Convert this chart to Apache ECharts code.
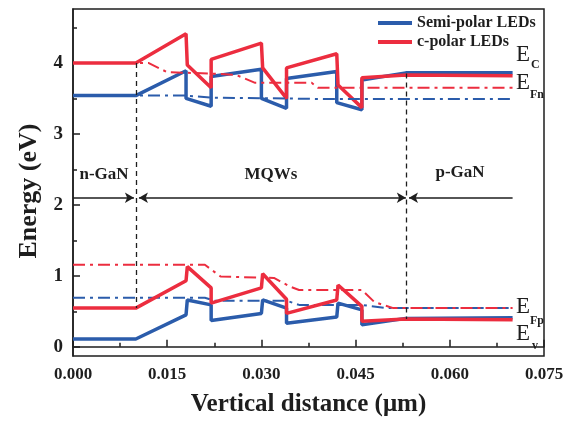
<!DOCTYPE html>
<html>
<head>
<meta charset="utf-8">
<script src="https://cdn.jsdelivr.net/npm/echarts@6/dist/echarts.min.js"></script>
<style>
  html, body { margin: 0; padding: 0; background: #fff; }
  #chart { width: 576px; height: 433px; }
</style>
</head>
<body>
<div id="chart"></div>
<script>
// Band-edge profiles, [position (um), energy (eV)]
const semiEc = [[0,3.54],[0.010,3.54],[0.018,3.89],[0.018,3.50],[0.022,3.39],[0.022,3.81],[0.030,3.91],[0.030,3.50],[0.034,3.36],[0.034,3.78],[0.042,3.88],[0.042,3.44],[0.046,3.34],[0.046,3.76],[0.053,3.86],[0.070,3.86]];
const cpolarEc = [[0,4.00],[0.010,4.00],[0.018,4.41],[0.0182,3.97],[0.022,3.65],[0.022,4.05],[0.030,4.28],[0.0302,3.93],[0.034,3.50],[0.034,3.93],[0.042,4.13],[0.0422,3.69],[0.046,3.37],[0.046,3.79],[0.053,3.83],[0.070,3.82]];
const semiEfn = [[0,3.54],[0.018,3.54],[0.022,3.51],[0.034,3.50],[0.040,3.49],[0.070,3.49]];
const cpolarEfn = [[0,4.00],[0.012,4.00],[0.015,3.87],[0.022,3.85],[0.026,3.83],[0.029,3.72],[0.038,3.72],[0.039,3.65],[0.070,3.65]];
const semiEfp = [[0,0.69],[0.021,0.69],[0.0225,0.65],[0.034,0.65],[0.036,0.59],[0.046,0.59],[0.050,0.545],[0.070,0.545]];
const cpolarEfp = [[0,1.155],[0.021,1.155],[0.0235,0.99],[0.032,0.97],[0.0345,0.85],[0.036,0.80],[0.046,0.80],[0.048,0.63],[0.051,0.545],[0.070,0.545]];
const semiEv = [[0,0.11],[0.010,0.11],[0.018,0.45],[0.0182,0.66],[0.022,0.59],[0.022,0.37],[0.030,0.47],[0.0302,0.66],[0.034,0.545],[0.034,0.33],[0.042,0.42],[0.0422,0.615],[0.046,0.52],[0.046,0.31],[0.053,0.40],[0.070,0.41]];
const cpolarEv = [[0,0.545],[0.010,0.545],[0.018,0.93],[0.0182,1.13],[0.022,0.83],[0.022,0.615],[0.030,0.83],[0.0302,1.03],[0.034,0.67],[0.034,0.47],[0.042,0.66],[0.0422,0.87],[0.046,0.57],[0.046,0.36],[0.053,0.39],[0.070,0.38]];

// Region boundaries and the arrow row marking n-GaN / MQWs / p-GaN
const boundaryN = [[0.010, 4.00], [0.010, 0.545]];
const boundaryP = [[0.053, 3.85], [0.053, 0.39]];
const arrowLevel = 2.10;
const arrowSpans = [[0, 0.0097], [0.0105, 0.0530], [0.0535, 0.070]];

const seriesNames = ['Semi-polar LEDs', 'c-polar LEDs'];
const yLabels = [0, 1, 2, 3, 4];
const yMinorTicks = [0.5, 1.5, 2.5, 3.5, 4.5];

const BLUE = '#2b5cab';
const RED = '#ec2d3f';
const INK = '#1e1e1e';
const SERIF = '"Liberation Serif", "Times New Roman", serif';
const DASHDOT = [12, 5, 3, 5];

function solid(name, data, color) {
  return { name, type: 'line', data, symbol: 'none', showSymbol: false,
    lineStyle: { color, width: 3.5 }, itemStyle: { color }, silent: true };
}
function dashDot(name, data, color) {
  return { name, type: 'line', data, symbol: 'none', showSymbol: false,
    lineStyle: { color, width: 2, type: DASHDOT }, itemStyle: { color }, silent: true };
}

const chart = echarts.init(document.getElementById('chart'), null, { renderer: 'canvas' });

const option = {
  animation: false,
  backgroundColor: '#fff',
  grid: { left: 73, right: 32, top: 9, bottom: 77, show: true, borderColor: INK, borderWidth: 1.5 },
  legend: {
    data: seriesNames,
    orient: 'vertical', left: 373, top: 10, itemGap: 3,
    icon: 'rect', itemWidth: 34, itemHeight: 4,
    textStyle: { fontFamily: SERIF, fontWeight: 'bold', fontSize: 16, color: INK }
  },
  xAxis: {
    type: 'value', min: 0, max: 0.075, interval: 0.015,
    name: 'Vertical distance (\u03bcm)', nameLocation: 'middle', nameGap: 36,
    nameTextStyle: { fontFamily: SERIF, fontWeight: 'bold', fontSize: 25, color: INK },
    axisLine: { show: true, lineStyle: { color: INK, width: 1.5 } },
    axisTick: { inside: true, length: 7, lineStyle: { color: INK, width: 1.5 } },
    minorTick: { show: true, splitNumber: 2, length: 4, lineStyle: { color: INK, width: 1.5 } },
    axisLabel: { fontFamily: SERIF, fontWeight: 'bold', fontSize: 17, color: INK, margin: 10,
      formatter: v => v.toFixed(3) },
    splitLine: { show: false }
  },
  yAxis: [
    {
      type: 'value', min: -0.13, max: 4.76,
      axisLine: { show: true, lineStyle: { color: INK, width: 1.5 } },
      axisTick: { inside: true, length: 7, customValues: yLabels, lineStyle: { color: INK, width: 1.5 } },
      axisLabel: { customValues: yLabels, fontFamily: SERIF, fontWeight: 'bold', fontSize: 19, color: INK, margin: 10 },
      splitLine: { show: false }
    },
    {
      type: 'value', min: -0.13, max: 4.76, position: 'left',
      axisLine: { show: false },
      axisTick: { show: true, inside: true, length: 4, customValues: yMinorTicks, lineStyle: { color: INK, width: 1.5 } },
      axisLabel: { show: false },
      splitLine: { show: false }
    }
  ],
  series: [
    solid(seriesNames[0], semiEc, BLUE),
    solid(seriesNames[1], cpolarEc, RED),
    dashDot('Semi-polar EFn', semiEfn, BLUE),
    dashDot('c-polar EFn', cpolarEfn, RED),
    dashDot('Semi-polar EFp', semiEfp, BLUE),
    dashDot('c-polar EFp', cpolarEfp, RED),
    solid('Semi-polar Ev', semiEv, BLUE),
    solid('c-polar Ev', cpolarEv, RED),
    {
      name: 'regions', type: 'line', data: [], silent: true,
      markLine: {
        silent: true, animation: false,
        label: { show: false },
        data: [
          [{ coord: boundaryN[0], symbol: 'none' }, { coord: boundaryN[1], symbol: 'none',
            lineStyle: { type: [5, 4], width: 1.3, color: INK } }],
          [{ coord: boundaryP[0], symbol: 'none' }, { coord: boundaryP[1], symbol: 'none',
            lineStyle: { type: [5, 4], width: 1.3, color: INK } }],
          [{ coord: [arrowSpans[0][0], arrowLevel], symbol: 'none' },
           { coord: [arrowSpans[0][1], arrowLevel], symbol: 'arrow' }],
          [{ coord: [arrowSpans[1][0], arrowLevel], symbol: 'arrow' },
           { coord: [arrowSpans[1][1], arrowLevel], symbol: 'arrow' }],
          [{ coord: [arrowSpans[2][0], arrowLevel], symbol: 'arrow' },
           { coord: [arrowSpans[2][1], arrowLevel], symbol: 'none' }]
        ],
        symbolSize: [8, 9],
        lineStyle: { color: INK, width: 1.5, type: 'solid' }
      }
    }
  ],
  graphic: [
    // axis title on the left
    { type: 'text', x: 29, y: 191, rotation: Math.PI / 2,
      style: { text: 'Energy (eV)', fontFamily: SERIF, fontWeight: 'bold', fontSize: 26, fill: INK,
        align: 'center', verticalAlign: 'middle' } },
    // region names
    { type: 'text', x: 104, y: 175, style: { text: 'n-GaN', fontFamily: SERIF, fontWeight: 'bold', fontSize: 17, fill: INK, align: 'center', verticalAlign: 'middle' } },
    { type: 'text', x: 271, y: 175, style: { text: 'MQWs', fontFamily: SERIF, fontWeight: 'bold', fontSize: 17, fill: INK, align: 'center', verticalAlign: 'middle' } },
    { type: 'text', x: 460, y: 173, style: { text: 'p-GaN', fontFamily: SERIF, fontWeight: 'bold', fontSize: 17, fill: INK, align: 'center', verticalAlign: 'middle' } },
    // band labels
    { type: 'text', x: 516, y: 55, style: { text: 'E', fontFamily: SERIF, fontSize: 23, fill: INK, verticalAlign: 'middle' } },
    { type: 'text', x: 531, y: 65, style: { text: 'C', fontFamily: SERIF, fontWeight: 'bold', fontSize: 12, fill: INK, verticalAlign: 'middle' } },
    { type: 'text', x: 516, y: 83, style: { text: 'E', fontFamily: SERIF, fontSize: 23, fill: INK, verticalAlign: 'middle' } },
    { type: 'text', x: 530, y: 95, style: { text: 'Fn', fontFamily: SERIF, fontWeight: 'bold', fontSize: 12, fill: INK, verticalAlign: 'middle' } },
    { type: 'text', x: 516, y: 307, style: { text: 'E', fontFamily: SERIF, fontSize: 23, fill: INK, verticalAlign: 'middle' } },
    { type: 'text', x: 530, y: 321, style: { text: 'Fp', fontFamily: SERIF, fontWeight: 'bold', fontSize: 12, fill: INK, verticalAlign: 'middle' } },
    { type: 'text', x: 516, y: 334, style: { text: 'E', fontFamily: SERIF, fontSize: 23, fill: INK, verticalAlign: 'middle' } },
    { type: 'text', x: 532, y: 346, style: { text: 'v', fontFamily: SERIF, fontWeight: 'bold', fontSize: 12, fill: INK, verticalAlign: 'middle' } }
  ]
};

chart.setOption(option);
</script>
</body>
</html>
